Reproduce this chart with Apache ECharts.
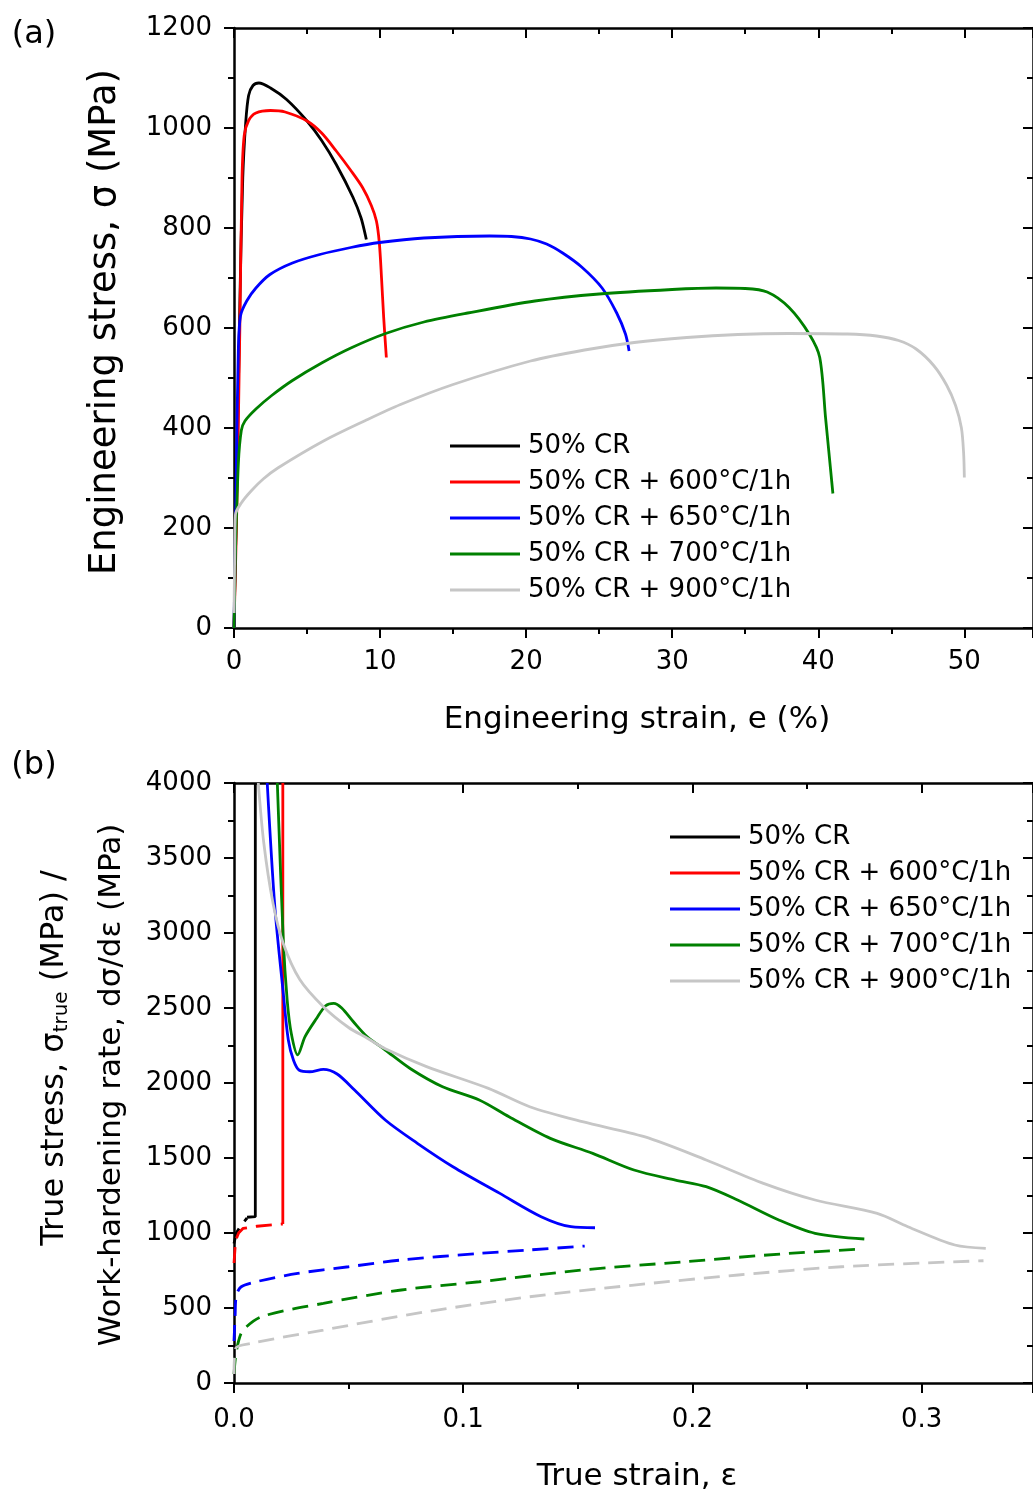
<!DOCTYPE html>
<html>
<head>
<meta charset="utf-8">
<script src="https://cdn.jsdelivr.net/npm/echarts@6/dist/echarts.min.js"></script>
<style>
html, body { margin: 0; padding: 0; background: #fff; }
#main { width: 1033px; height: 1496px; }
</style>
</head>
<body>
<div id="main"></div>
<script>
// legend names and colours, same order in both panels
var names = ["50% CR", "50% CR + 600°C/1h", "50% CR + 650°C/1h", "50% CR + 700°C/1h", "50% CR + 900°C/1h"];
var colors = ["#000000", "#ff0000", "#0000ff", "#008000", "#c6c6c6"];

// (a) engineering strain (%) / engineering stress (MPa)
var engCR = [[0,0],[0.2,300],[0.4,650],[0.6,900],[0.8,1010],[1.0,1065],[1.3,1085],[1.7,1090],[2.5,1080],[3.6,1057],[5.0,1014],[6.0,975],[7.0,927],[8.15,861],[8.7,820],[9.06,777]];
var eng600 = [[0,0],[0.2,250],[0.4,600],[0.55,900],[0.7,985],[1.0,1015],[1.5,1030],[2.5,1035],[3.5,1032],[5.0,1014],[6.0,990],[7.0,954],[8.0,915],[8.8,881],[9.4,845],[9.75,814],[9.95,770],[10.1,700],[10.25,620],[10.43,541]];
var eng650 = [[0,0],[0.15,300],[0.3,560],[0.45,625],[0.87,654],[1.5,680],[2.46,707],[4,730],[5.87,747],[8,761],[9.97,771],[13,780],[17.5,784],[19,783],[20.3,778],[21.4,768],[22.5,750],[23.8,722],[25.2,680],[26.2,630],[26.8,588],[27.05,554]];
var eng700 = [[0,0],[0.1,150],[0.3,330],[0.5,395],[0.75,414],[1.5,438],[2.58,465],[4,495],[6,530],[8,560],[10.38,589],[13,612],[16,630],[20.6,654],[25,668],[30,677],[33,680],[35,679],[36.5,672],[38,641],[39.4,587],[40.1,541],[40.5,420],[41.0,269]];
var eng900 = [[0,30],[0.05,150],[0.1,227],[0.5,250],[1.17,274],[2,298],[3,320],[6.13,374],[9,415],[11.4,447],[15,487],[20.3,534],[24,556],[27.4,571],[31,581],[34.5,587],[38,589],[42,588],[44,584],[45.5,575],[46.7,558],[47.9,525],[48.8,485],[49.4,445],[49.8,400],[49.95,350],[50.0,301]];

// (b) true strain / work-hardening rate (solid) and true stress (dashed), MPa
var whrCR = [[0.0093,4000],[0.0093,1109],[0.0057,1105]];
var tsCR = [[0,930],[0.001,1000],[0.003,1050],[0.0057,1100]];
var whr600 = [[0.0213,4000],[0.0213,1060]];
var ts600 = [[0,800],[0.0007,950],[0.002,1000],[0.004,1031],[0.01,1045],[0.0213,1060]];
var whr650 = [[0.0145,4000],[0.0178,3177],[0.0215,2598],[0.0237,2287],[0.026,2150],[0.0285,2085],[0.033,2075],[0.039,2091],[0.045,2060],[0.0526,1953],[0.066,1753],[0.08,1598],[0.0955,1442],[0.116,1264],[0.134,1109],[0.147,1042],[0.1575,1035]];
var ts650 = [[0,280],[0.0005,450],[0.001,580],[0.003,640],[0.0097,675],[0.0278,731],[0.05,775],[0.073,820],[0.107,864],[0.129,887],[0.153,913]];
var whr700 = [[0.0189,4000],[0.0215,2953],[0.0232,2553],[0.025,2330],[0.0278,2187],[0.031,2309],[0.036,2430],[0.040,2515],[0.0435,2531],[0.047,2500],[0.052,2410],[0.058,2310],[0.066,2220],[0.077,2095],[0.091,1975],[0.107,1887],[0.12,1775],[0.138,1631],[0.1565,1531],[0.1745,1420],[0.1926,1353],[0.206,1309],[0.2197,1220],[0.2377,1087],[0.2535,998],[0.275,960]];
var ts700 = [[0,60],[0.0007,175],[0.002,280],[0.004,353],[0.012,442],[0.039,531],[0.073,620],[0.107,675],[0.152,753],[0.197,809],[0.242,864],[0.2715,891]];
var whr900 = [[0.0106,4000],[0.013,3600],[0.017,3200],[0.0215,2930],[0.0287,2690],[0.039,2509],[0.05,2370],[0.058,2300],[0.066,2228],[0.084,2109],[0.111,1964],[0.129,1842],[0.152,1742],[0.179,1642],[0.206,1487],[0.231,1331],[0.2535,1220],[0.2806,1131],[0.294,1042],[0.3145,920],[0.328,898]];
var ts900 = [[0,60],[0.0007,231],[0.0074,264],[0.039,353],[0.084,475],[0.129,575],[0.1745,653],[0.22,720],[0.265,775],[0.327,815]];

var font = "DejaVu Sans";
var myChart = echarts.init(document.getElementById("main"));

function axisBase(show, inside) {
    return {
        axisLine: { show: true, onZero: false, lineStyle: { color: "#000", width: 2.5 } },
        axisTick: { show: true, inside: inside, length: 10, lineStyle: { color: "#000", width: 2 } },
        minorTick: { show: true, splitNumber: 2, length: 6, lineStyle: { color: "#000", width: 2 } },
        splitLine: { show: false },
        axisLabel: { show: show, color: "#000", fontFamily: font, fontSize: 26 }
    };
}
function makeX(grid, max, interval, margin, fmt) {
    var b = axisBase(true, false);
    b.type = "value"; b.gridIndex = grid; b.min = 0; b.max = max; b.interval = interval; b.position = "bottom";
    b.axisLabel.margin = margin; b.axisLabel.formatter = fmt; b.axisLabel.showMaxLabel = false;
    var t = axisBase(false, true);
    t.type = "value"; t.gridIndex = grid; t.min = 0; t.max = max; t.interval = interval; t.position = "top";
    return [b, t];
}
function makeY(grid, max, interval) {
    var l = axisBase(true, false);
    l.type = "value"; l.gridIndex = grid; l.min = 0; l.max = max; l.interval = interval; l.position = "left";
    l.axisLabel.margin = 22;
    l.axisLabel.formatter = function (v) { return String(v); };
    var r = axisBase(false, true);
    r.type = "value"; r.gridIndex = grid; r.min = 0; r.max = max; r.interval = interval; r.position = "right";
    return [l, r];
}

var series = [];
function addLine(name, data, color, xi, yi, dashed) {
    series.push({
        name: name, type: "line", data: data, xAxisIndex: xi, yAxisIndex: yi,
        showSymbol: false, symbol: "none", smooth: 0.3, color: color,
        lineStyle: { color: color, width: 2.8, type: dashed ? [16, 9] : "solid" },
        emphasis: { disabled: true }, silent: true, animation: false
    });
}
var engSets = [engCR, eng600, eng650, eng700, eng900];
var whrSets = [whrCR, whr600, whr650, whr700, whr900];
var tsSets = [tsCR, ts600, ts650, ts700, ts900];
for (var i = 0; i < 5; i++) addLine(names[i], engSets[i], colors[i], 0, 0, false);
for (var i = 0; i < 5; i++) addLine(names[i], whrSets[i], colors[i], 2, 2, false);
for (var i = 0; i < 5; i++) addLine(names[i], tsSets[i], colors[i], 2, 2, true);
// the vertical jumps in (b) should stay straight
series[5].smooth = false; series[6].smooth = false;
series[10].smooth = false; series[11].smooth = false;

function legendAt(left, top) {
    return {
        data: names, orient: "vertical", left: left, top: top, padding: 0,
        icon: "rect", itemWidth: 70, itemHeight: 3, itemGap: 6,
        textStyle: { color: "#000", fontFamily: font, fontSize: 26, lineHeight: 30, padding: [0, 0, 0, 3] },
        selectedMode: false
    };
}

function label(text, x, y, size, rot, rich) {
    var st = { text: text, x: 0, y: 0, fill: "#000", fontFamily: font, fontSize: size, align: "center", verticalAlign: "middle" };
    if (rich) st.rich = rich;
    return { type: "text", x: x, y: y, rotation: rot || 0, style: st, silent: true };
}

option = {
    animation: false,
    grid: [
        { left: 234, top: 28, right: -2, bottom: 868 },
        { left: 234, top: 783, right: -2, bottom: 113 }
    ],
    xAxis: makeX(0, 54.7, 10, 21, function (v) { return String(v); })
        .concat(makeX(1, 0.3486, 0.1, 24, function (v) { return v.toFixed(1); })),
    yAxis: makeY(0, 1200, 200).concat(makeY(1, 4000, 500)),
    legend: [legendAt(450, 431), legendAt(670, 822)],
    series: series,
    graphic: [
        label("(a)", 34, 35, 32),
        label("(b)", 34, 766, 32),
        label("Engineering strain, e (%)", 637, 720, 31),
        label("True strain, ε", 637, 1477, 31),
        label("Engineering stress, σ (MPa)", 105, 322, 37, Math.PI / 2),
        label("True stress, σ{s|true} (MPa) /", 55, 1058, 32, Math.PI / 2,
            { s: { fontSize: 20, fontFamily: font, fill: "#000", verticalAlign: "bottom", padding: [14, 0, 0, 0] } }),
        label("Work-hardening rate, dσ/dε (MPa)", 112, 1085, 31, Math.PI / 2)
    ]
};

myChart.setOption(option);
</script>
</body>
</html>
